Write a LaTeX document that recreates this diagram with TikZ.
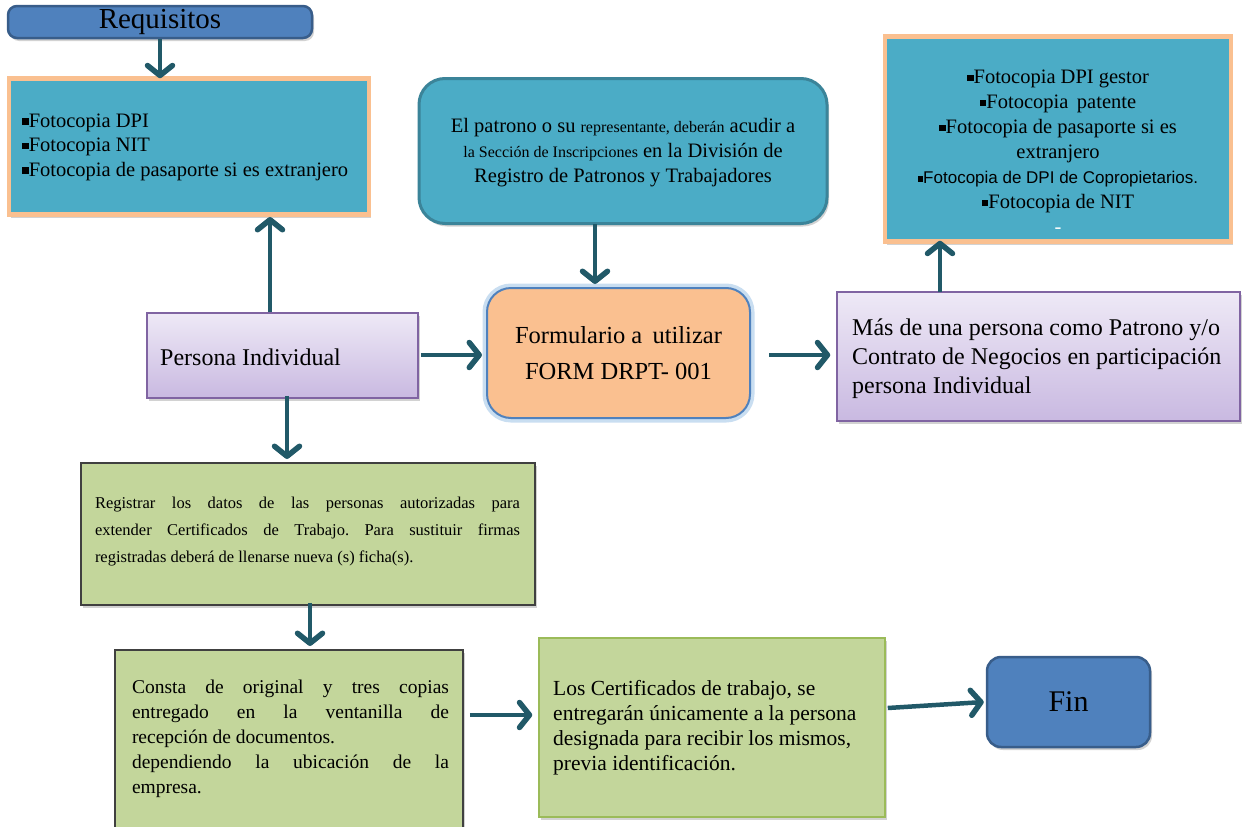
\documentclass[tikz,border=0pt]{standalone}
\usepackage{fontspec}
\setmainfont{Liberation Serif}
\newfontfamily\sansf{Liberation Sans}
\usetikzlibrary{arrows.meta,shadows}
\frenchspacing
\definecolor{blueF}{HTML}{4F81BD}
\definecolor{blueB}{HTML}{385D8A}
\definecolor{tealF}{HTML}{4BACC6}
\definecolor{tealB}{HTML}{3B8499}
\definecolor{orB}{HTML}{FAC090}
\definecolor{arrC}{HTML}{215968}
\definecolor{lavB}{HTML}{8064A2}
\definecolor{lavT}{HTML}{EEE9F6}
\definecolor{lavD}{HTML}{C9B9E1}
\definecolor{grnF}{HTML}{C3D69B}
\definecolor{grnB}{HTML}{9BBB59}
\definecolor{glowC}{HTML}{9DC3E6}
\newcommand\bul{\rule[0.12em]{0.32em}{0.32em}}
\tikzset{
  shd/.style={drop shadow={opacity=0.35,shadow xshift=2pt,shadow yshift=-3pt}},
  bluebox/.style={draw=blueB,fill=blueF,line width=2.5pt,rounded corners=9pt,shd},
  tealbox/.style={draw=orB,fill=tealF,line width=4.5pt,shd},
  lavbox/.style={draw=lavB,line width=1.5pt,top color=lavT,bottom color=lavD,shd},
  grnbox/.style={draw=black!75,fill=grnF,line width=1.5pt,shd},
  arr/.style={draw=arrC,line width=4.5pt,-{Straight Barb[length=10pt,width=25pt,line width=5.5pt,round]}},
}
\begin{document}
\begin{tikzpicture}[x=1pt,y=-1pt]
\useasboundingbox[fill=white] (0,0) rectangle (1243,827);

% Requisitos
\node[bluebox,minimum width=304pt,minimum height=32pt,inner sep=0pt,font=\fontsize{29}{30}\selectfont] (req) at (160,22) {Requisitos};

% Box 1
\node[tealbox,minimum width=360pt,minimum height=136pt,inner sep=0pt] (b1) at (189,146.5) {};
\node[anchor=west,align=left,font=\fontsize{20.5}{24.5}\selectfont,inner sep=0pt] (b1t) at (22,147)
 {\bul Fotocopia DPI\\ \bul Fotocopia NIT\\ \bul Fotocopia de pasaporte si es extranjero};

% Top middle
\node[draw=tealB,fill=tealF,line width=3pt,rounded corners=26pt,minimum width=408pt,minimum height=145pt,inner sep=0pt,shd] (tm) at (623,151) {};
\node[align=center,font=\fontsize{20.5}{25}\selectfont,inner sep=0pt] (tmt) at (623,153)
 {El patrono o su {\fontsize{16}{25}\selectfont representante, deberán} acudir a\\
  {\fontsize{16}{25}\selectfont la Sección de Inscripciones} en la División de\\
  Registro de Patronos y Trabajadores};

% Right top
\node[tealbox,minimum width=346pt,minimum height=205pt,inner sep=0pt] (rt) at (1058,139) {};
\node[align=center,font=\fontsize{20.5}{25}\selectfont,inner sep=0pt] (rtt) at (1058,152)
 {\bul Fotocopia DPI gestor\\
  \bul Fotocopia\, patente\\
  \bul Fotocopia de pasaporte si es\\
  extranjero\\
  {\sansf\fontsize{17}{25}\selectfont \bul Fotocopia de DPI de Copropietarios.}\\
  \bul Fotocopia de NIT\\
  {\color{white}-}};

% Persona Individual
\node[lavbox,minimum width=271pt,minimum height=85pt,inner sep=0pt] (pi) at (282.5,355.5) {};
\node[anchor=west,font=\fontsize{24}{25}\selectfont,inner sep=0pt] (pit) at (160,357) {Persona Individual};

% Formulario
\draw[glowC,line width=9pt,opacity=0.55,rounded corners=24pt] (487,288) rectangle (750,418);
\node[draw=blueF,fill=orB,line width=2pt,rounded corners=24pt,minimum width=263pt,minimum height=130pt,inner sep=0pt,align=center,font=\fontsize{24.5}{36}\selectfont] (fo) at (618.5,353)
 {Formulario a\, utilizar\\ FORM DRPT- 001};

% Mas de una persona
\node[lavbox,minimum width=403pt,minimum height=129pt,inner sep=0pt] (mp) at (1038.5,356.5) {};
\node[anchor=west,align=left,font=\fontsize{24}{29}\selectfont,inner sep=0pt] (mpt) at (852,359)
 {Más de una persona como Patrono y/o\\ Contrato de Negocios en participación\\ persona Individual};

% Green 1
\node[grnbox,minimum width=454pt,minimum height=142pt,inner sep=0pt] (g1) at (308,534) {};
\node[text width=425pt,align=justify,font=\fontsize{16.5}{27}\selectfont,inner sep=0pt] (g1t) at (307.5,532)
 {Registrar los datos de las personas autorizadas para\linebreak extender Certificados de Trabajo. Para sustituir firmas\linebreak registradas deberá de llenarse nueva (s) ficha(s).};

% Green 2
\node[grnbox,minimum width=348pt,minimum height=180pt,inner sep=0pt] (g2) at (289,740) {};
\node[text width=317pt,align=justify,font=\fontsize{19.5}{25}\selectfont,inner sep=0pt] (g2t) at (290.5,739)
 {Consta de original y tres copias\linebreak entregado en la ventanilla de\linebreak recepción de documentos.\\ dependiendo la ubicación de la\linebreak empresa.};

% Green 3
\node[draw=grnB,fill=grnF,line width=1.5pt,minimum width=346pt,minimum height=179pt,inner sep=0pt,shd] (g3) at (712,727.5) {};
\node[anchor=west,align=left,font=\fontsize{21.5}{25}\selectfont,inner sep=0pt] (g3t) at (553,728)
 {Los Certificados de trabajo, se\\ entregarán únicamente a la persona\\ designada para recibir los mismos,\\ previa identificación.};

% Fin
\node[bluebox,rounded corners=14pt,minimum width=163pt,minimum height=90pt,inner sep=0pt,font=\fontsize{30}{32}\selectfont] (fin) at (1068.5,702) {Fin};

% Arrows
\draw[arr] (req.south) -- ([yshift=-2pt]req.south |- b1.north);
\draw[arr] (pi.north -| 270,0) -- (270,217);
\draw[arr] ([yshift=1pt]tm.south -| 595,0) -- (595,284);
\draw[arr] ([xshift=2pt]pi.east |- 0,355) -- ([xshift=-4pt]fo.west |- 0,355);
\draw[arr] ([xshift=18pt]fo.east |- 0,355) -- ([xshift=-6pt]mp.west |- 0,355);
\draw[arr] (940,292) -- ([yshift=3pt]rt.south -| 940,0);
\draw[arr] ([yshift=3pt]pi.south -| 287,0) -- (287,459);
\draw[arr] ([yshift=3pt]g1.south -| 310,0) -- (310,646);
\draw[arr] ([xshift=6pt]g2.east |- 0,715) -- ([xshift=-6pt]g3.west |- 0,715);
\draw[arr] ([xshift=2pt]g3.east |- 0,708) -- ([xshift=-2pt]fin.west);
\end{tikzpicture}
\end{document}
